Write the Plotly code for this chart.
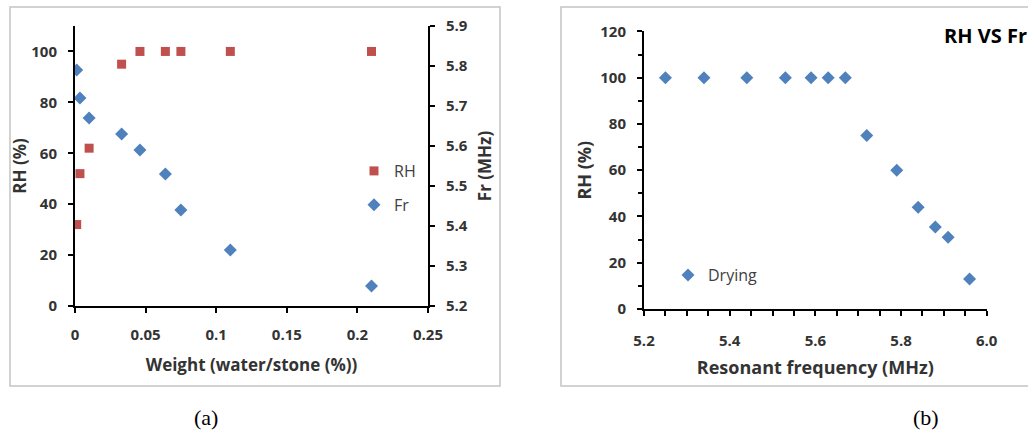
import plotly.graph_objects as go

# ---- data ----
weight = [0.0012, 0.0035, 0.010, 0.033, 0.046, 0.064, 0.075, 0.110, 0.210]
rh_a = [32, 52, 62, 95, 100, 100, 100, 100, 100]
fr_a = [5.79, 5.72, 5.67, 5.63, 5.59, 5.53, 5.44, 5.34, 5.25]

freq_b = [5.25, 5.34, 5.44, 5.53, 5.59, 5.63, 5.67, 5.72, 5.79, 5.84, 5.88, 5.91, 5.96]
rh_b = [100, 100, 100, 100, 100, 100, 100, 75, 60, 44, 35.5, 31, 13]

xticks_a = [0, 0.05, 0.1, 0.15, 0.2, 0.25]
xticklabels_a = ["0", "0.05", "0.1", "0.15", "0.2", "0.25"]
yticks_a = [0, 20, 40, 60, 80, 100]
y2ticks_a = [5.2, 5.3, 5.4, 5.5, 5.6, 5.7, 5.8, 5.9]
xticks_b = [5.2, 5.4, 5.6, 5.8, 6.0]
yticks_b = [0, 20, 40, 60, 80, 100, 120]

RED = "#c0504d"
BLUE = "#4f81bd"
W, H = 1028, 435
FONT = "Open Sans"
TICKCOL = "#333333"


def px(x):
    return x / W


def py(y):
    return 1 - y / H


fig = go.Figure()
fig.add_trace(go.Scatter(x=weight, y=rh_a, mode="markers", name="RH",
                         marker=dict(symbol="square", size=9, color=RED),
                         xaxis="x", yaxis="y", legend="legend", legendgroup="a"))
fig.add_trace(go.Scatter(x=weight, y=fr_a, mode="markers", name="Fr",
                         marker=dict(symbol="diamond", size=10, color=BLUE),
                         xaxis="x", yaxis="y2", legend="legend", legendgroup="b"))
fig.add_trace(go.Scatter(x=freq_b, y=rh_b, mode="markers", name="Drying",
                         marker=dict(symbol="diamond", size=10, color=BLUE),
                         xaxis="x3", yaxis="y3", legend="legend2"))

tickfont = dict(family=FONT, size=15, color=TICKCOL, weight="bold")
titlefont_a = dict(family=FONT, size=17, color=TICKCOL, weight="bold")
titlefont_b = dict(family=FONT, size=18, color=TICKCOL, weight="bold")
axcommon = dict(showline=True, linecolor="black", linewidth=2, ticks="outside",
                ticklen=5, tickwidth=2, tickcolor="black", showgrid=False,
                zeroline=False, tickfont=tickfont, automargin=False)

fig.update_layout(
    width=W, height=H, margin=dict(l=0, r=0, t=0, b=0, autoexpand=False),
    paper_bgcolor="white", plot_bgcolor="white",
    xaxis=dict(domain=[px(75), px(428)], range=[0, 0.25], tickvals=xticks_a,
               ticktext=xticklabels_a, anchor="y", ticklabelstandoff=9,
               title=dict(text="Weight (water/stone (%))", standoff=16,
                          font=titlefont_a), **axcommon),
    yaxis=dict(domain=[py(306), py(26)], range=[0, 110], tickvals=yticks_a,
               anchor="x", ticklabelstandoff=8,
               title=dict(text="RH (%)", standoff=0, font=titlefont_a), **axcommon),
    yaxis2=dict(domain=[py(306), py(26)], range=[5.2, 5.9], tickvals=y2ticks_a,
                tickformat=".1f", overlaying="y", side="right", anchor="x",
                ticklabelstandoff=8,
                title=dict(text="Fr (MHz)", standoff=12, font=titlefont_a), **axcommon),
    xaxis3=dict(domain=[px(644), px(986.7)], range=[5.2, 6.0], tickvals=xticks_b,
                tickformat=".1f", anchor="y3", ticklabelstandoff=12,
                minor=dict(dtick=0.05, ticks="outside", ticklen=5, tickwidth=2,
                           tickcolor="black"),
                title=dict(text="Resonant frequency (MHz)", standoff=12,
                           font=titlefont_b), **axcommon),
    yaxis3=dict(domain=[py(309), py(31.4)], range=[0, 120], tickvals=yticks_b,
                anchor="x3", ticklabelstandoff=8,
                minor=dict(dtick=10, ticks="outside", ticklen=4, tickwidth=2,
                           tickcolor="black"),
                title=dict(text="RH (%)", standoff=4, font=titlefont_b), **axcommon),
    legend=dict(x=px(354), y=py(154), xanchor="left", yanchor="top",
                bgcolor="rgba(0,0,0,0)", tracegroupgap=10,
                font=dict(family=FONT, size=16, color="#404040")),
    legend2=dict(x=px(668), y=py(258), xanchor="left", yanchor="top",
                 bgcolor="rgba(0,0,0,0)",
                 font=dict(family=FONT, size=16, color="#404040")),
    shapes=[
        dict(type="rect", xref="paper", yref="paper", x0=px(10), x1=px(500),
             y0=py(386), y1=py(7), line=dict(color="#c4c4c4", width=1.5)),
        dict(type="rect", xref="paper", yref="paper", x0=px(561), x1=px(1040),
             y0=py(386), y1=py(7), line=dict(color="#c4c4c4", width=1.5)),
    ],
    annotations=[
        dict(text="RH VS Fr", xref="paper", yref="paper", x=px(942), y=py(36),
             xanchor="left", yanchor="middle", showarrow=False,
             font=dict(family=FONT, size=20, color="black", weight="bold")),
        dict(text="(a)", xref="paper", yref="paper", x=px(206), y=py(417),
             xanchor="center", yanchor="middle", showarrow=False,
             font=dict(family="Liberation Serif", size=22, color="black")),
        dict(text="(b)", xref="paper", yref="paper", x=px(926), y=py(417),
             xanchor="center", yanchor="middle", showarrow=False,
             font=dict(family="Liberation Serif", size=22, color="black")),
    ],
)

fig.write_html(
    "out.html",
    config={"displayModeBar": False},
    post_script="document.body.style.margin='0';document.body.style.overflow='hidden';"
                "document.documentElement.style.overflow='hidden';",
)
